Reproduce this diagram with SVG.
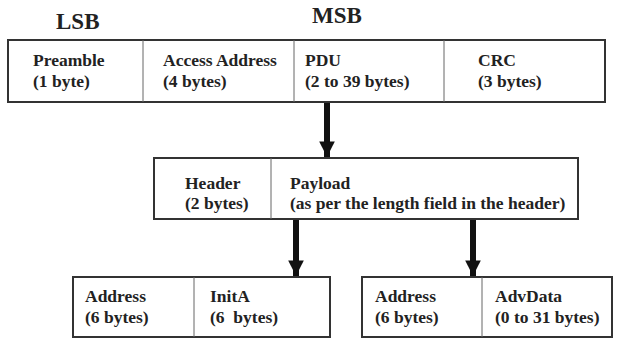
<svg xmlns="http://www.w3.org/2000/svg" width="617" height="340" viewBox="0 0 617 340">
<style>
.box{fill:#fff;stroke:#333;stroke-width:2}
.div{stroke:#666;stroke-width:1}
text{font-family:"Liberation Serif","Times New Roman",serif;font-weight:bold;fill:#222;font-size:17.5px}
.big{font-size:23px}
.pre{white-space:pre}
.arr{stroke:#111;stroke-width:6}
</style>
<defs>
<marker id="ah" viewBox="0 0 10 10" refX="10" refY="5" markerWidth="2.6" markerHeight="2.6" orient="auto" markerUnits="strokeWidth">
<path d="M0,0 L10,5 L0,10 z" fill="#111"/>
</marker>
</defs>
<rect width="617" height="340" fill="#fff"/>
<text class="big" x="56" y="29">LSB</text>
<text class="big" x="312" y="23">MSB</text>
<g id="packet">
<rect class="box" x="8" y="40" width="597" height="62"/>
<line class="div" x1="143" y1="40" x2="143" y2="102"/>
<line class="div" x1="294" y1="40" x2="294" y2="102"/>
<line class="div" x1="444" y1="40" x2="444" y2="102"/>
<text x="33" y="66">Preamble</text><text x="33" y="87">(1 byte)</text>
<text x="163" y="66">Access Address</text><text x="163" y="87">(4 bytes)</text>
<text x="305" y="66">PDU</text><text x="305" y="87">(2 to 39 bytes)</text>
<text x="478" y="66">CRC</text><text x="478" y="87">(3 bytes)</text>
</g>
<g id="pdu">
<rect class="box" x="154" y="158" width="424" height="61"/>
<line class="div" x1="271" y1="158" x2="271" y2="219"/>
<text x="185" y="189">Header</text><text x="185" y="209">(2 bytes)</text>
<text x="290" y="189">Payload</text><text x="290" y="209">(as per the length field in the header)</text>
</g>
<g id="payload-left">
<rect class="box" x="73" y="277" width="257" height="60"/>
<line class="div" x1="194" y1="277" x2="194" y2="337"/>
<text x="85" y="302">Address</text><text x="85" y="323">(6 bytes)</text>
<text x="210" y="302">InitA</text><text class="pre" x="210" y="323" xml:space="preserve">(6  bytes)</text>
</g>
<g id="payload-right">
<rect class="box" x="362" y="277" width="250" height="60"/>
<line class="div" x1="482" y1="277" x2="482" y2="337"/>
<text x="375" y="302">Address</text><text x="375" y="323">(6 bytes)</text>
<text x="495" y="302">AdvData</text><text x="495" y="323">(0 to 31 bytes)</text>
</g>
<g id="connectors">
<line class="arr" x1="327" y1="103" x2="327" y2="157" marker-end="url(#ah)"/>
<line class="arr" x1="296" y1="220" x2="296" y2="276" marker-end="url(#ah)"/>
<line class="arr" x1="473" y1="220" x2="473" y2="276" marker-end="url(#ah)"/>
</g>
</svg>
